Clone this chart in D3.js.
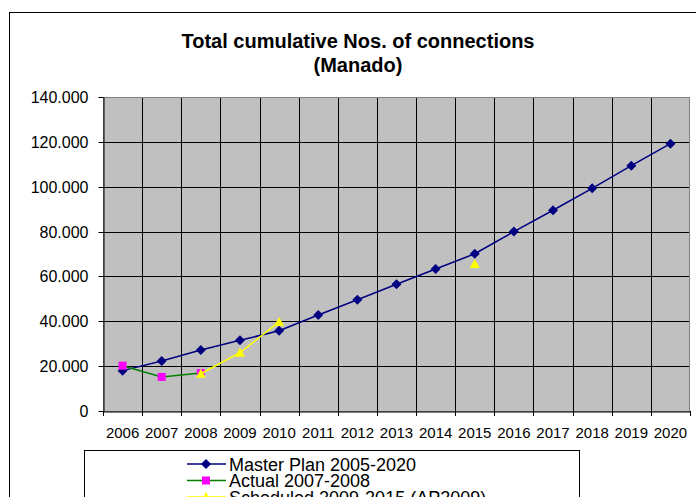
<!DOCTYPE html>
<html>
<head>
<meta charset="utf-8">
<script src="https://cdn.jsdelivr.net/npm/d3@7"></script>
<style>
  html, body { margin: 0; padding: 0; background: #fff; }
  svg { display: block; font-family: Arial, "Liberation Sans", sans-serif; }
</style>
</head>
<body>
<svg id="chart" width="696" height="497"></svg>
<script>
// Years on the category axis
const years = ["2006","2007","2008","2009","2010","2011","2012","2013","2014","2015","2016","2017","2018","2019","2020"];

// Total cumulative number of connections per year
const masterPlan = [18000, 22300, 27200, 31500, 35800, 42800, 49600, 56500, 63300, 70100, 80000, 89500, 99300, 109400, 119200];
const actual     = [20200, 15200, 16900, null, null, null, null, null, null, null, null, null, null, null, null];
const scheduled  = [null, null, 16600, 26000, 39700, null, null, null, null, 65500, null, null, null, null, null];

// Value-axis ticks
const yTicks = [0, 20000, 40000, 60000, 80000, 100000, 120000, 140000];

const seriesNames = ["Master Plan 2005-2020", "Actual 2007-2008", "Scheduled 2009-2015 (AP2009)"];

const titleLines = ["Total cumulative Nos. of connections", "(Manado)"];

const svg = d3.select("#chart");
const plot = { left: 103, right: 690, top: 97, bottom: 411 };

const x = d3.scaleBand().domain(years).range([plot.left, plot.right]).padding(0);
const y = d3.scaleLinear().domain([0, 140000]).range([plot.bottom, plot.top]);

const fmt = d3.formatLocale({ decimal: ",", thousands: ".", grouping: [3], currency: ["", ""] }).format(",");

// Outer chart frame (continues beyond the visible window on the right and bottom)
svg.append("rect")
  .attr("x", 9.5).attr("y", 12.5)
  .attr("width", 760).attr("height", 560)
  .attr("fill", "#fff").attr("stroke", "#000").attr("stroke-width", 1);

// Title
const title = svg.append("text")
  .attr("text-anchor", "middle")
  .attr("font-weight", "bold")
  .attr("font-size", 20)
  .attr("fill", "#000");
title.selectAll("tspan").data(titleLines).join("tspan")
  .attr("x", 358)
  .attr("y", (d, i) => 48 + i * 24)
  .text(d => d);

// Plot background
svg.append("rect")
  .attr("x", plot.left).attr("y", plot.top)
  .attr("width", plot.right - plot.left).attr("height", plot.bottom - plot.top)
  .attr("fill", "#c0c0c0");

// Horizontal gridlines
svg.append("g")
  .selectAll("line")
  .data(yTicks.filter(v => v > 0 && v < 140000))
  .join("line")
  .attr("x1", plot.left).attr("x2", plot.right)
  .attr("y1", d => Math.round(y(d)) + 0.5).attr("y2", d => Math.round(y(d)) + 0.5)
  .attr("stroke", "#000").attr("stroke-width", 1);

// Vertical gridlines at category boundaries
svg.append("g")
  .selectAll("line")
  .data(years.slice(1))
  .join("line")
  .attr("x1", d => Math.round(x(d)) + 0.5).attr("x2", d => Math.round(x(d)) + 0.5)
  .attr("y1", plot.top).attr("y2", plot.bottom)
  .attr("stroke", "#000").attr("stroke-width", 1);

// Plot border
svg.append("rect")
  .attr("x", plot.left + 0.5).attr("y", plot.top + 0.5)
  .attr("width", plot.right - plot.left - 1).attr("height", plot.bottom - plot.top)
  .attr("fill", "none").attr("stroke", "#808080").attr("stroke-width", 1);

// Y axis
const yAxis = svg.append("g")
  .attr("transform", `translate(${plot.left + 0.5},0)`)
  .call(d3.axisLeft(y).tickValues(yTicks).tickFormat(d => d === 0 ? "0" : fmt(d)).tickSize(5).tickPadding(10).tickSizeOuter(0));
yAxis.selectAll("line").attr("stroke", "#000");
yAxis.select(".domain").attr("stroke", "#000");
yAxis.selectAll("text").attr("font-size", 16).attr("fill", "#000").attr("font-family", "Arial, 'Liberation Sans', sans-serif");
yAxis.selectAll(".tick").attr("transform", d => `translate(0,${Math.round(y(d)) + 0.5})`);

// X axis: labels centred on categories
const xAxis = svg.append("g")
  .attr("transform", `translate(0,${plot.bottom + 0.5})`)
  .call(d3.axisBottom(x).tickSize(0).tickPadding(15.5).tickSizeOuter(0));
xAxis.select(".domain").attr("stroke", "#000");
xAxis.selectAll("text").attr("font-size", 15).attr("fill", "#000").attr("font-family", "Arial, 'Liberation Sans', sans-serif");

// X tick marks at category boundaries
svg.append("g")
  .selectAll("line")
  .data(years.concat(["end"]))
  .join("line")
  .attr("x1", (d, i) => Math.round(plot.left + i * x.bandwidth()) + 0.5)
  .attr("x2", (d, i) => Math.round(plot.left + i * x.bandwidth()) + 0.5)
  .attr("y1", plot.bottom).attr("y2", plot.bottom + 5)
  .attr("stroke", "#000");

const cx = d => x(d) + x.bandwidth() / 2;

const series = [
  { name: seriesNames[0], values: masterPlan, color: "#000080", marker: "diamond", fill: "#000080" },
  { name: seriesNames[1], values: actual,     color: "#008000", marker: "square",  fill: "#ff00ff" },
  { name: seriesNames[2], values: scheduled,  color: "#ffff00", marker: "triangle", fill: "#ffff00" }
];

function markerPath(type) {
  if (type === "diamond") return "M0,-5L5,0L0,5L-5,0Z";
  if (type === "square") return "M-4,-4L4,-4L4,4L-4,4Z";
  return "M0,-5L5,4L-5,4Z";
}

const line = d3.line()
  .defined(d => d.v != null)
  .x(d => cx(d.year))
  .y(d => y(d.v));

series.forEach(s => {
  const pts = years.map((yr, i) => ({ year: yr, v: s.values[i] }));
  const g = svg.append("g");
  g.append("path")
    .datum(pts)
    .attr("d", line)
    .attr("fill", "none")
    .attr("stroke", s.color)
    .attr("stroke-width", 1.5);
  g.selectAll("path.m")
    .data(pts.filter(p => p.v != null))
    .join("path")
    .attr("class", "m")
    .attr("transform", p => `translate(${cx(p.year)},${y(p.v)})`)
    .attr("d", markerPath(s.marker))
    .attr("fill", s.fill);
});

// Legend
const legend = svg.append("g");
legend.append("rect")
  .attr("x", 84.5).attr("y", 450.5)
  .attr("width", 495).attr("height", 80)
  .attr("fill", "#fff").attr("stroke", "#000");

const rows = legend.selectAll("g.row")
  .data(series)
  .join("g")
  .attr("class", "row")
  .attr("transform", (d, i) => `translate(0,${464 + i * 16.5})`);
rows.append("line")
  .attr("x1", 187).attr("x2", 226)
  .attr("y1", 0).attr("y2", 0)
  .attr("stroke", d => d.color).attr("stroke-width", 1.5);
rows.append("path")
  .attr("transform", "translate(206,0)")
  .attr("d", d => markerPath(d.marker))
  .attr("fill", d => d.fill);
rows.append("text")
  .attr("x", 229)
  .attr("y", 6.5)
  .attr("font-size", 18)
  .attr("fill", "#000")
  .text(d => d.name);
</script>
</body>
</html>
